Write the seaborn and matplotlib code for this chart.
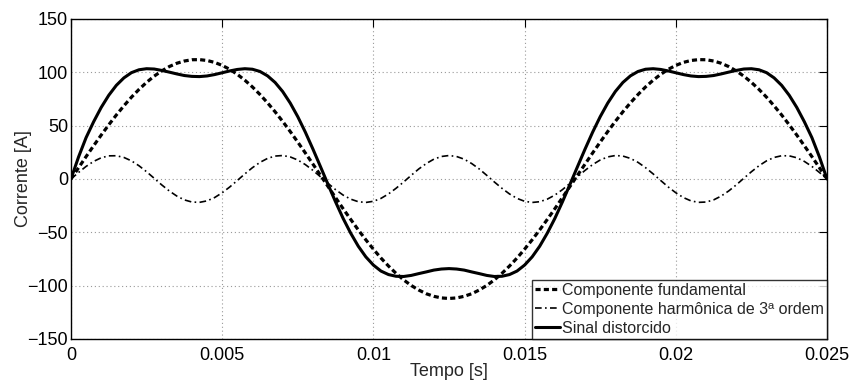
import matplotlib
matplotlib.use("Agg")
import matplotlib.pyplot as plt
import numpy as np
import pandas as pd
import seaborn as sns

# sample times (s), one sample every 0.25 ms
tempo = np.linspace(0, 0.025, 101)

# values (A)
fundamental = [
    0, 10.5, 21.0, 31.2, 41.2, 50.8, 60.0, 68.6, 76.7, 84.0,
    90.6, 96.4, 101.3, 105.4, 108.5, 110.6, 111.8, 111.9, 111.1, 109.3,
    106.5, 102.8, 98.1, 92.6, 86.3, 79.2, 71.4, 63.0, 54.0, 44.5,
    34.6, 24.4, 14.0, 3.5, -7.0, -17.5, -27.9, -37.9, -47.7, -57.0,
    -65.8, -74.1, -81.6, -88.5, -94.6, -99.8, -104.1, -107.6, -110.0, -111.5,
    -112.0, -111.5, -110.0, -107.6, -104.1, -99.8, -94.6, -88.5, -81.6, -74.1,
    -65.8, -57.0, -47.7, -37.9, -27.9, -17.5, -7.0, 3.5, 14.0, 24.4,
    34.6, 44.5, 54.0, 63.0, 71.4, 79.2, 86.3, 92.6, 98.1, 102.8,
    106.5, 109.3, 111.1, 111.9, 111.8, 110.6, 108.5, 105.4, 101.3, 96.4,
    90.6, 84.0, 76.7, 68.6, 60.0, 50.8, 41.2, 31.2, 21.0, 10.5,
    0,
]

harmonica3 = [
    0, 6.1, 11.8, 16.5, 19.9, 21.7, 21.8, 20.2, 17.0, 12.4,
    6.8, 0.7, -5.5, -11.2, -16.0, -19.6, -21.6, -21.9, -20.5, -17.4,
    -12.9, -7.5, -1.4, 4.8, 10.6, 15.6, 19.3, 21.5, 22.0, 20.7,
    17.8, 13.5, 8.1, 2.1, -4.1, -10.0, -15.1, -18.9, -21.3, -22.0,
    -20.9, -18.2, -14.0, -8.7, -2.8, 3.4, 9.4, 14.5, 18.6, 21.1,
    22.0, 21.1, 18.6, 14.5, 9.4, 3.4, -2.8, -8.7, -14.0, -18.2,
    -20.9, -22.0, -21.3, -18.9, -15.1, -10.0, -4.1, 2.1, 8.1, 13.5,
    17.8, 20.7, 22.0, 21.5, 19.3, 15.6, 10.6, 4.8, -1.4, -7.5,
    -12.9, -17.4, -20.5, -21.9, -21.6, -19.6, -16.0, -11.2, -5.5, 0.7,
    6.8, 12.4, 17.0, 20.2, 21.8, 21.7, 19.9, 16.5, 11.8, 6.1,
    0,
]

distorcido = [
    0, 20.6, 38.8, 53.7, 67.1, 78.5, 87.8, 94.8, 99.7, 102.4,
    103.4, 103.1, 101.8, 100.2, 98.5, 97.0, 96.2, 96.0, 96.6, 97.9,
    99.6, 101.3, 102.7, 103.4, 102.9, 100.8, 96.7, 90.5, 82.0, 71.2,
    58.4, 43.9, 28.1, 11.6, -5.1, -21.5, -37.0, -50.8, -63.0, -73.0,
    -80.7, -86.3, -89.6, -91.2, -91.4, -90.4, -88.7, -87.1, -85.4, -84.4,
    -84.0, -84.4, -85.4, -87.1, -88.7, -90.4, -91.4, -91.2, -89.6, -86.3,
    -80.7, -73.0, -63.0, -50.8, -37.0, -21.5, -5.1, 11.6, 28.1, 43.9,
    58.4, 71.2, 82.0, 90.5, 96.7, 100.8, 102.9, 103.4, 102.7, 101.3,
    99.6, 97.9, 96.6, 96.0, 96.2, 97.0, 98.5, 100.2, 101.8, 103.1,
    103.4, 102.4, 99.7, 94.8, 87.8, 78.5, 67.1, 53.7, 38.8, 20.6,
    0,
]

x_ticks = [0, 0.005, 0.01, 0.015, 0.02, 0.025]
x_labels = ["0", "0.005", "0.01", "0.015", "0.02", "0.025"]
y_ticks = [-150, -100, -50, 0, 50, 100, 150]

df = pd.DataFrame({"t": tempo, "fund": fundamental,
                   "h3": harmonica3, "dist": distorcido})

sns.set_style("white")
plt.rcParams["font.family"] = ["Liberation Sans", "DejaVu Sans"]

fig = plt.figure(figsize=(8.54, 3.83), dpi=100)
ax = fig.add_axes([0.0831, 0.1149, 0.8853, 0.8355])

sns.lineplot(data=df, x="t", y="fund", ax=ax, color="black", linewidth=2.3,
             linestyle=(0, (1.6, 1.0)), label="Componente fundamental")
sns.lineplot(data=df, x="t", y="h3", ax=ax, color="black", linewidth=1.2,
             linestyle=(0, (4, 2, 1, 2)), label="Componente harmônica de 3ª ordem")
sns.lineplot(data=df, x="t", y="dist", ax=ax, color="black", linewidth=2.2,
             linestyle="-", label="Sinal distorcido")

ax.set_xlim(0, 0.025)
ax.set_ylim(-150, 150)
ax.set_xticks(x_ticks)
ax.set_xticklabels(x_labels)
ax.set_yticks(y_ticks)
ax.grid(True, linestyle=(0, (1, 2.5)), color="#999999", linewidth=0.8)
ax.tick_params(direction="in", length=6, width=0.8, top=True, right=True,
               labelsize=13, pad=2, colors="black")
ax.tick_params(axis="x", pad=6)
for s in ax.spines.values():
    s.set_color("black")
    s.set_linewidth(1.0)

ax.set_xlabel("Tempo [s]", fontsize=13, labelpad=-1)
ax.set_ylabel("Corrente [A]", fontsize=13, labelpad=-3)

leg = ax.legend(loc="lower right", borderaxespad=0, fontsize=11.5,
                frameon=True, fancybox=False, handlelength=1.6,
                handletextpad=0.1, labelspacing=0.25, borderpad=0.2)
leg.get_frame().set_edgecolor("black")
leg.get_frame().set_linewidth(1.0)

fig.savefig("out.png", dpi=100)
